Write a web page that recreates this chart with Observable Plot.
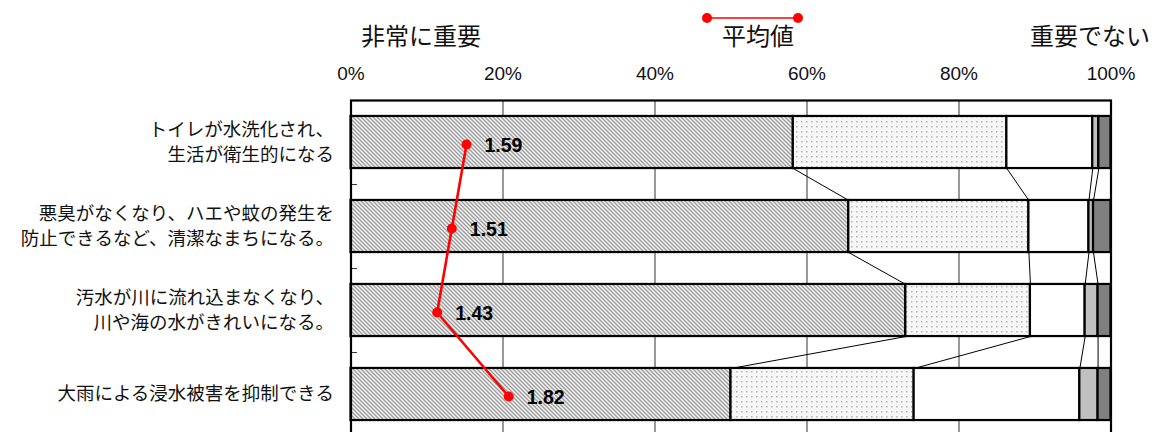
<!DOCTYPE html>
<html>
<head>
<meta charset="utf-8">
<script src="https://cdn.jsdelivr.net/npm/d3@7"></script>
<script src="https://cdn.jsdelivr.net/npm/@observablehq/plot@0.6"></script>
<style>
  html, body { margin: 0; padding: 0; background: #fff; overflow: hidden; }
  #chart svg { display: block; }
</style>
</head>
<body>
<div id="chart"></div>
<script>
// ---- data ----
const categories = [
  "トイレが水洗化され、\n生活が衛生的になる",
  "悪臭がなくなり、ハエや蚊の発生を\n防止できるなど、清潔なまちになる。",
  "汚水が川に流れ込まなくなり、\n川や海の水がきれいになる。",
  "大雨による浸水被害を抑制できる"
];
const levelLabels = ["非常に重要", "やや重要", "どちらともいえない", "あまり重要でない", "重要でない"];
const level1 = [58.2, 65.5, 73.0, 50.0];
const level2 = [28.1, 23.7, 16.4, 24.1];
const level3 = [11.3, 7.9, 7.2, 21.8];
const level4 = [0.8, 0.6, 1.7, 2.4];
const level5 = [1.6, 2.3, 1.7, 1.7];
const means = [1.59, 1.51, 1.43, 1.82];
const xTicks = [0, 20, 40, 60, 80, 100];
const meanAxisLabel = "平均値";

// ---- derived tables ----
const levels = [level1, level2, level3, level4, level5];
const fills = ["url(#hatch)", "url(#dots)", "#ffffff", "#c0c0c0", "#808080"];
const half = 0.31; // half bar thickness in band units
const cums = categories.map((c, i) => [0, ...d3.cumsum(levels.map(l => l[i]))]);
const segments = [];
categories.forEach((c, i) => {
  levels.forEach((l, j) => {
    segments.push({i, j, x1: cums[i][j], x2: cums[i][j + 1], fill: fills[j]});
  });
});
const links = [];
for (let i = 0; i < categories.length - 1; i++) {
  for (let k = 1; k < levels.length; k++) {
    links.push({x1: cums[i][k], y1: i + half, x2: cums[i + 1][k], y2: i + 1 - half});
  }
}
const meanX = m => (m - 1) / 4 * 96.6 + 0.95; // secondary (1-5) axis placed on the 0-100% frame
const meanRows = means.map((m, i) => ({m, i}));
const boundaries = categories.slice(1).map((c, i) => i + 0.5);
// one row per label line, so each line is its own text
const labelLines = [];
categories.forEach((c, i) => {
  const parts = c.split("\n");
  parts.forEach((p, k) => labelLines.push({i, text: p, off: k - (parts.length - 1) / 2}));
});

const jp = "'Noto Sans CJK JP', 'Noto Sans', sans-serif";
const narrow = "'Liberation Sans Narrow', 'Arial Narrow', 'Liberation Sans', Arial, sans-serif";

const plot = Plot.plot({
  width: 1152,
  height: 440,
  marginTop: 100,
  marginBottom: 4,
  marginLeft: 350.5,
  marginRight: 41.5,
  x: {domain: [0, 100], axis: null},
  y: {domain: [-0.5, categories.length - 0.5], reverse: true, axis: null},
  color: {type: "identity"},
  style: {fontFamily: jp, background: "#fff"},
  marks: [
    Plot.ruleX(xTicks.slice(1, -1), {stroke: "#555", strokeWidth: 1.2}),
    Plot.ruleY(boundaries, {x1: 0, x2: 0.85, stroke: "#333", strokeWidth: 1}),
    Plot.link(links, {x1: "x1", y1: "y1", x2: "x2", y2: "y2", stroke: "#000", strokeWidth: 1}),
    Plot.rect(segments, {
      x1: "x1", x2: "x2",
      y1: d => d.i - half, y2: d => d.i + half,
      fill: "fill", stroke: "#000", strokeWidth: 2.2
    }),
    Plot.frame({stroke: "#000", strokeWidth: 2.2}),
    Plot.text(xTicks, {
      x: d => d, text: d => d + "%", frameAnchor: "top", lineAnchor: "middle", dy: -27,
      fontFamily: narrow, fontSize: 19, fill: "#111"
    }),
    Plot.text(labelLines, {
      y: d => d.i + d.off * 0.29, frameAnchor: "left", dx: -17, textAnchor: "end", lineAnchor: "middle",
      text: "text", fontSize: 18.5, fill: "#111"
    }),
    Plot.line(meanRows, {x: d => meanX(d.m), y: "i", dy: 2, stroke: "#ff0000", strokeWidth: 2.6}),
    Plot.dot(meanRows, {x: d => meanX(d.m), y: "i", dy: 2, r: 5, fill: "#ff0000", stroke: "none"}),
    Plot.text(meanRows, {
      x: d => meanX(d.m), y: "i", dx: 18, dy: 3, text: d => d.m.toFixed(2),
      textAnchor: "start", fontWeight: "bold", fontSize: 19.5,
      fontFamily: "'Liberation Sans', Arial, sans-serif", fill: "#000"
    }),
    Plot.text([levelLabels[0]], {frameAnchor: "top-left", lineAnchor: "middle", dx: 10, dy: -63, textAnchor: "start", fontSize: 24, fill: "#111"}),
    Plot.text([meanAxisLabel], {frameAnchor: "top-left", lineAnchor: "middle", dx: 407, dy: -63, textAnchor: "middle", fontSize: 24, fill: "#111"}),
    Plot.text([levelLabels[4]], {frameAnchor: "top-right", lineAnchor: "middle", dx: 39, dy: -63, textAnchor: "end", fontSize: 24, fill: "#111"})
  ]
});

// patterns
const svg = d3.select(plot);
const defs = svg.insert("defs", ":first-child");
const hatch = defs.append("pattern").attr("id", "hatch").attr("patternUnits", "userSpaceOnUse")
  .attr("width", 4).attr("height", 4);
hatch.append("rect").attr("width", 4).attr("height", 4).attr("fill", "#f4f4f4");
hatch.append("path").attr("d", "M-1,-1 L5,5 M-1,3 L1,5 M3,-1 L5,1")
  .attr("stroke", "#9a9a9a").attr("stroke-width", 1.3);
const dots = defs.append("pattern").attr("id", "dots").attr("patternUnits", "userSpaceOnUse")
  .attr("width", 5).attr("height", 5);
dots.append("rect").attr("width", 5).attr("height", 5).attr("fill", "#f7f7f7");
dots.append("rect").attr("x", 1).attr("y", 1).attr("width", 1.5).attr("height", 1.5).attr("fill", "#b5b5b5");

// legend swatch for the mean line
const lg = svg.append("g");
lg.append("line").attr("x1", 707).attr("x2", 798).attr("y1", 18).attr("y2", 18)
  .attr("stroke", "#ff0000").attr("stroke-width", 1.5);
[707, 798].forEach(cx => lg.append("circle").attr("cx", cx).attr("cy", 18).attr("r", 5).attr("fill", "#ff0000"));

document.getElementById("chart").appendChild(plot);
</script>
</body>
</html>
